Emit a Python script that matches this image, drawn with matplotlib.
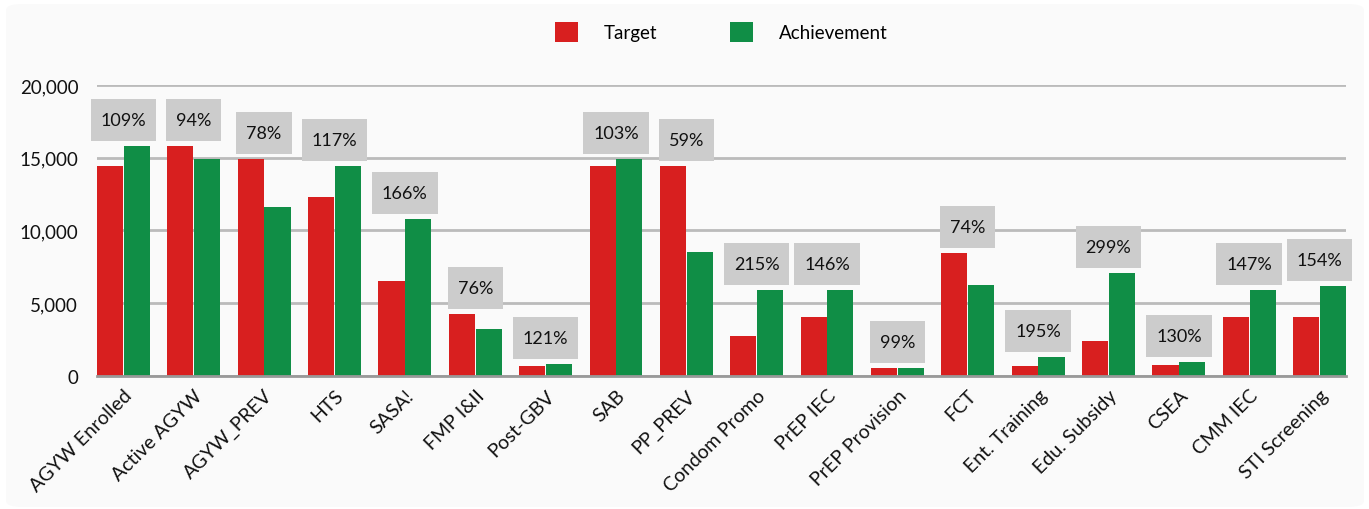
import numpy as np
import matplotlib
matplotlib.use("Agg")
import matplotlib.pyplot as plt
from matplotlib.patches import FancyBboxPatch
from matplotlib.path import Path
from matplotlib.transforms import ScaledTranslation
from matplotlib.ticker import FuncFormatter

categories = ["AGYW Enrolled", "Active AGYW", "AGYW_PREV", "HTS", "SASA!", "FMP I&II",
              "Post-GBV", "SAB", "PP_PREV", "Condom Promo", "PrEP IEC", "PrEP Provision",
              "FCT", "Ent. Training", "Edu. Subsidy", "CSEA", "CMM IEC", "STI Screening"]
target = [14400, 15800, 14900, 12300, 6500, 4250, 660, 14430, 14430, 2750, 4030, 540,
          8440, 660, 2360, 730, 4030, 4030]
achievement = [15800, 14900, 11600, 14430, 10800, 3230, 800, 14900, 8500, 5900, 5900, 535,
               6240, 1290, 7060, 950, 5920, 6200]
pct_labels = ["109%", "94%", "78%", "117%", "166%", "76%", "121%", "103%", "59%", "215%",
              "146%", "99%", "74%", "195%", "299%", "130%", "147%", "154%"]

RED = "#D81F1F"
GREEN = "#108E46"

plt.rcParams['font.family'] = ['Lato', 'DejaVu Sans']


def label_box(x0, y0, width, height, mutation_size):
    # fixed 42px tall box, 10px side padding
    cy = y0 + height / 2
    x0, x1 = x0 - 10, x0 + width + 10
    y0, y1 = cy - 21, cy + 21
    return Path([(x0, y0), (x1, y0), (x1, y1), (x0, y1), (x0, y0)], closed=True)


fig = plt.figure(figsize=(13.69, 5.10), dpi=100)
fig.patch.set_facecolor("white")
card = FancyBboxPatch((6 / 1369, 2 / 510), 1358 / 1369, 503 / 510,
                      boxstyle="round,pad=0,rounding_size=0.012",
                      transform=fig.transFigure, facecolor="#FAFAFA",
                      edgecolor="none", zorder=-10)
fig.patches.append(card)

ax = fig.add_axes([97 / 1369, 1 - 376.7 / 510, (1346 - 97) / 1369, (376.7 - 86) / 510])
ax.set_facecolor("none")
ax.set_zorder(1)

x = np.arange(len(categories))
w = 0.37
ax.bar(x - 0.19, target, w, color=RED, label="Target", zorder=3)
ax.bar(x + 0.19, achievement, w, color=GREEN, label="Achievement", zorder=3)

ax.set_xlim(-0.19 - w / 2, len(categories) - 1 + 0.19 + w / 2)
ax.set_ylim(0, 20000)
ax.set_yticks([0, 5000, 10000, 15000, 20000])
ax.yaxis.set_major_formatter(FuncFormatter(lambda v, p: f"{int(v):,}"))
ax.grid(axis="y", color="#BBBBBB", linewidth=2, zorder=0)
ax.set_axisbelow(True)
for s in ["top", "right", "left"]:
    ax.spines[s].set_visible(False)
ax.spines["bottom"].set_color("#999999")
ax.spines["bottom"].set_linewidth(2)
ax.spines["bottom"].set_zorder(4)

ax.tick_params(axis="y", length=0, pad=13.5, labelsize=13.5, labelcolor="#111111")
ax.tick_params(axis="x", length=0, pad=12, labelsize=14, labelcolor="#111111")
ax.set_xticks(x)
ax.set_xticklabels(categories, rotation=45, ha="right", va="center", rotation_mode="anchor")
shift = ScaledTranslation(0.06, 0, fig.dpi_scale_trans)
for lbl in ax.get_xticklabels():
    lbl.set_transform(lbl.get_transform() + shift)

for i, p in enumerate(pct_labels):
    top = max(target[i], achievement[i])
    ax.annotate(p, (x[i], top), xytext=(0, 26), textcoords="offset pixels",
                ha="center", va="center", fontsize=13, color="#111111",
                bbox=dict(boxstyle=label_box, facecolor="#CCCCCC", edgecolor="none"),
                zorder=5, annotation_clip=False)

pos = ax.get_position()
leg = ax.legend(loc="center", bbox_to_anchor=(pos.x0 + pos.width / 2, 1 - 33 / 510),
                bbox_transform=fig.transFigure,
                ncol=2, frameon=False, fontsize=13.5, handlelength=1.2, handleheight=1.2,
                handletextpad=1.4, columnspacing=3.9)

fig.savefig("out.png", dpi=100, facecolor=fig.get_facecolor())
